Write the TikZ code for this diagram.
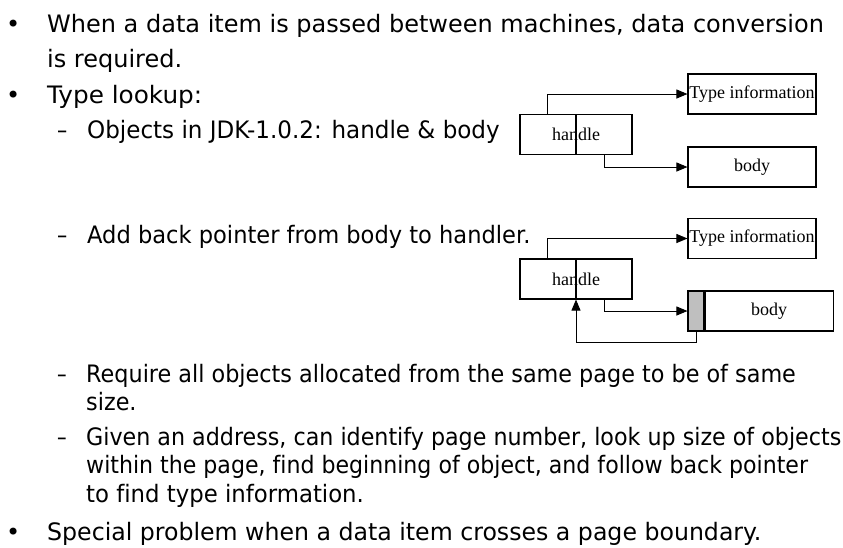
\documentclass[tikz,border=0pt]{standalone}
\usepackage{graphicx}
\usepackage{fontspec}
\setmainfont{Liberation Serif}
\newfontfamily\slidefont[Ligatures=NoCommon]{DejaVu Sans}
\usetikzlibrary{arrows.meta, positioning, calc}

% squeeze one line of slide text to the width it has on the slide
\newcommand{\squeezeline}[2]{\scalebox{#1}[1]{#2}}

\begin{document}
\begin{tikzpicture}[
  x=1pt, y=-1pt,
  toptext/.style={
    font=\slidefont\fontsize{24}{28}\selectfont,
    anchor=base west, inner sep=0
  },
  cellbox/.style={
    draw, line width=1.1pt, minimum height=40pt, inner sep=0,
    font=\fontsize{18}{20}\selectfont
  },
  ptrline/.style={-{Triangle[length=11pt, width=9pt]}, line width=0.9pt}
]
\useasboundingbox (0,0) rectangle (843,547);

% ── Bullet text, upper part ─────────────────────────────────
\node[toptext] (b1) at (6,32) {•};
\node[toptext] (t1) at (47,32) {When a data item is passed between machines, data conversion};
\node[toptext] (t2) at (47,67) {is required.};
\node[toptext] (b2) at (6,103) {•};
\node[toptext] (t3) at (47,103) {\squeezeline{1.03}{Type lookup:}};
\node[toptext] (d1) at (57,138) {\squeezeline{0.85}{–}};
\node[toptext] (t4) at (87,138) {\squeezeline{0.96}{Objects in JDK-1.0.2: handle \& body}};
\node[toptext] (d2) at (57,243) {\squeezeline{0.85}{–}};
\node[toptext] (t5) at (87,243) {\squeezeline{0.94}{Add back pointer from body to handler.}};

% ── Bullet text, lower part ─────────────────────────────────
\node[toptext] (d3) at (57,382) {\squeezeline{0.8}{–}};
\node[toptext] (t6) at (86,382) {\squeezeline{0.93}{Require all objects allocated from the same page to be of same}};
\node[toptext] (t7) at (86,410) {\squeezeline{0.93}{size.}};
\node[toptext] (d4) at (57,445) {\squeezeline{0.8}{–}};
\node[toptext] (t8) at (86,445) {\squeezeline{0.925}{Given an address, can identify page number, look up size of objects}};
\node[toptext] (t9) at (86,473.5) {\squeezeline{0.92}{within the page, find beginning of object, and follow back pointer}};
\node[toptext] (t10) at (86,502) {\squeezeline{0.95}{to find type information.}};
\node[toptext] (b3) at (6,540) {•};
\node[toptext] (t11) at (47,540) {\squeezeline{0.985}{Special problem when a data item crosses a page boundary.}};

% ── Handle & body (JDK-1.0.2) ───────────────────────────────
\node[cellbox, minimum width=112pt] (hA) at (576,134.5) {handle};
\node[cellbox, minimum width=128pt] (tA) at (752,94) {Type information};
\node[cellbox, minimum width=128pt] (bA) at (752,167) {body};
\draw[line width=1.1pt] (hA.north) -- (hA.south);
\draw[ptrline] ($(hA.north west)!0.25!(hA.north east)$) |- (tA.west);
\draw[ptrline] ($(hA.south west)!0.75!(hA.south east)$) |- (bA.west);

% ── Handle & body with back pointer ─────────────────────────
\node[cellbox, minimum width=112pt] (hB) at (576,279) {handle};
\node[cellbox, minimum width=128pt] (tB) at (752,238.5) {Type information};
\node[cellbox, minimum width=16pt, fill=black!25] (gB) at (696,311) {};
\node[cellbox, minimum width=128pt, right=0pt of gB] (bB) {body};
\draw[line width=1.1pt] (hB.north) -- (hB.south);
\draw[ptrline] ($(hB.north west)!0.25!(hB.north east)$) |- (tB.west);
\draw[ptrline] ($(hB.south west)!0.75!(hB.south east)$) |- (gB.west);
% back pointer
\draw[ptrline] (gB.south) -- ++(0,11) -| (hB.south);

\end{tikzpicture}
\end{document}
